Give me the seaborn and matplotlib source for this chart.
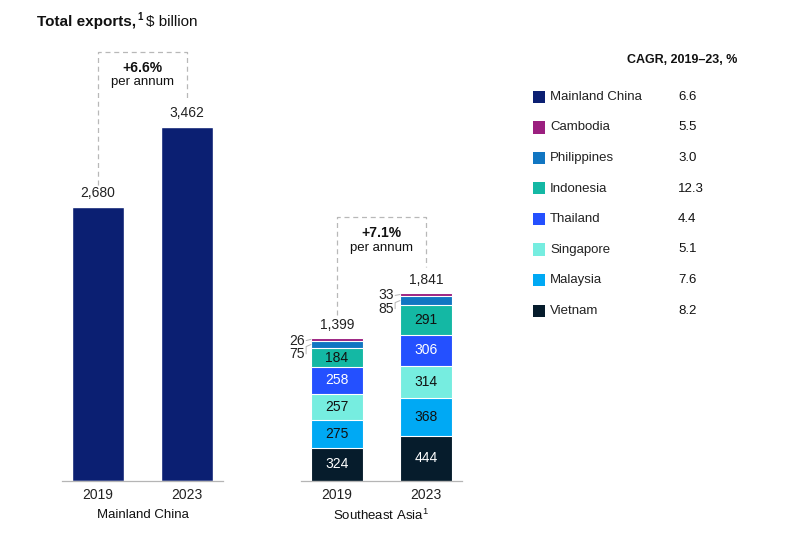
import matplotlib
matplotlib.use("Agg")
import matplotlib.pyplot as plt
import seaborn as sns
import pandas as pd
import numpy as np
from matplotlib.patches import Rectangle

sns.set_theme(style="white")
plt.rcParams['font.family'] = ['Liberation Sans', 'DejaVu Sans']

years = ["2019", "2023"]
china_values = [2680, 3462]
china_labels = ["2,680", "3,462"]

# SEA stack order bottom -> top
sea_countries = ["Vietnam", "Malaysia", "Singapore", "Thailand", "Indonesia", "Philippines", "Cambodia"]
sea_2019 = [324, 275, 257, 258, 184, 75, 26]
sea_2023 = [444, 368, 314, 306, 291, 85, 33]
sea_totals_labels = ["1,399", "1,841"]

legend_names = ["Mainland China", "Cambodia", "Philippines", "Indonesia", "Thailand", "Singapore", "Malaysia", "Vietnam"]
legend_cagr = ["6.6", "5.5", "3.0", "12.3", "4.4", "5.1", "7.6", "8.2"]
cagr_china = "+6.6%"
cagr_sea = "+7.1%"

colors = {
    "Mainland China": "#0b1f72",
    "Cambodia": "#9b1f7f",
    "Philippines": "#1176c2",
    "Indonesia": "#14b8a4",
    "Thailand": "#2450ff",
    "Singapore": "#76ede0",
    "Malaysia": "#00a9f4",
    "Vietnam": "#061c2c",
}
white_text = {"Vietnam", "Thailand"}

W, H = 808, 535
fig = plt.figure(figsize=(W / 100, H / 100), dpi=100)

pxu = 89.0          # px per category unit
pyv = 0.1022        # px per $bn
base_py = 481
ytop = 4300
xl = (-0.41, 1.41)

def add_ax(center0_px):
    left_px = center0_px + xl[0] * pxu
    width_px = (xl[1] - xl[0]) * pxu
    h_px = ytop * pyv
    ax = fig.add_axes([left_px / W, (H - base_py) / H, width_px / W, h_px / H])
    ax.set_xlim(*xl)
    ax.set_ylim(0, ytop)
    ax.patch.set_alpha(0)
    for s in ["top", "right", "left"]:
        ax.spines[s].set_visible(False)
    ax.spines["bottom"].set_color("#b5b5b5")
    ax.spines["bottom"].set_linewidth(0.9)
    ax.set_yticks([])
    ax.tick_params(axis="x", length=0, pad=5, labelsize=10, labelcolor="#222222")
    return ax

# ---- Mainland China ----
axL = add_ax(98)
df_c = pd.DataFrame({"year": years, "value": china_values})
sns.barplot(data=df_c, x="year", y="value", color=colors["Mainland China"],
            width=0.584, errorbar=None, ax=axL, saturation=1)
axL.set_xlim(*xl); axL.set_ylim(0, ytop)
axL.set_xlabel(""); axL.set_ylabel("")
for i, (v, lab) in enumerate(zip(china_values, china_labels)):
    axL.text(i, v + 135, lab, ha="center", va="center", fontsize=10, color="#222222")

# ---- Southeast Asia ----
axR = add_ax(337)
rows = []
for yi, vals in zip(years, [sea_2019, sea_2023]):
    cum = np.cumsum(vals)
    for c, v, cu in zip(sea_countries, vals, cum):
        rows.append({"year": yi, "country": c, "value": v, "cum": cu, "bottom": cu - v})
df_s = pd.DataFrame(rows)
for c in reversed(sea_countries):
    sub = df_s[df_s.country == c]
    sns.barplot(data=sub, x="year", y="cum", order=years, color=colors[c],
                width=0.584, errorbar=None, ax=axR, saturation=1,
                edgecolor="white", linewidth=0.8)
axR.set_xlim(*xl); axR.set_ylim(0, ytop)
axR.set_xlabel(""); axR.set_ylabel("")

small = {"Philippines", "Cambodia"}
for _, r in df_s.iterrows():
    i = years.index(r.year)
    if r.country in small:
        continue
    mid = r.bottom + r.value / 2
    axR.text(i, mid, f"{r.value}", ha="center", va="center", fontsize=10,
             color="white" if r.country in white_text else "#111111")

for i, vals in enumerate([sea_2019, sea_2023]):
    tot = sum(vals)
    axR.text(i, tot + 127, sea_totals_labels[i], ha="center", va="center",
             fontsize=10, color="#222222")
    cum = np.cumsum(vals)
    cam_mid = cum[6] - vals[6] / 2
    phi_mid = cum[5] - vals[5] / 2
    lx = i - 0.292 - 0.07
    axR.text(lx, tot - 25, f"{vals[6]}", ha="right", va="center", fontsize=10, color="#222222")
    axR.text(lx, tot - 155, f"{vals[5]}", ha="right", va="center", fontsize=10, color="#222222")
    axR.plot([lx + 0.015, i - 0.292], [tot - 25, cam_mid], color="#b5b5b5", lw=0.7, clip_on=False)
    axR.plot([lx + 0.015, lx + 0.015, i - 0.292], [tot - 155, phi_mid - 20, phi_mid],
             color="#b5b5b5", lw=0.7, clip_on=False)

# ---- dashed CAGR brackets ----
dash = dict(color="#b8b8b8", lw=0.9, ls=(0, (4, 3)), clip_on=False)
axL.plot([0, 0, 1, 1], [2896, 4198, 4198, 3728], **dash)
axL.text(0.5, 4041, cagr_china, ha="center", va="center", fontsize=10, fontweight="bold", color="#111111")
axL.text(0.5, 3904, "per annum", ha="center", va="center", fontsize=9.5, color="#111111")
axR.plot([0, 0, 1, 1], [1624, 2583, 2583, 2094], **dash)
axR.text(0.5, 2427, cagr_sea, ha="center", va="center", fontsize=10, fontweight="bold", color="#111111")
axR.text(0.5, 2280, "per annum", ha="center", va="center", fontsize=9.5, color="#111111")

# ---- group labels ----
fig.text(143 / W, 1 - 515 / H, "Mainland China", ha="center", va="center", fontsize=9.5, color="#111111")
fig.text(381 / W, 1 - 515 / H, "Southeast Asia$^{\\mathregular{1}}$", ha="center", va="center", fontsize=9.5, color="#111111")

# ---- title ----
renderer = fig.canvas.get_renderer()
t1 = fig.text(37 / W, 1 - 22 / H, "Total exports,", ha="left", va="center",
              fontsize=11, fontweight="bold", color="#111111")
bb = t1.get_window_extent(renderer)
t2 = fig.text((bb.x1 + 1) / W, 1 - 17 / H, "1", ha="left", va="center",
              fontsize=7, fontweight="bold", color="#111111")
bb2 = t2.get_window_extent(renderer)
fig.text((bb2.x1 + 3) / W, 1 - 22 / H, "\\$ billion", ha="left", va="center",
         fontsize=11, color="#111111")

# ---- legend ----
fig.text(627 / W, 1 - 60 / H, "CAGR, 2019\u201323, %", ha="left", va="center",
         fontsize=9, fontweight="bold", color="#111111")
for k, (name, val) in enumerate(zip(legend_names, legend_cagr)):
    yc = 97 + k * 30.5
    fig.patches.append(Rectangle((533 / W, 1 - (yc + 6) / H), 12 / W, 12 / H,
                                 transform=fig.transFigure, facecolor=colors[name],
                                 edgecolor="none"))
    fig.text(550 / W, 1 - yc / H, name, ha="left", va="center", fontsize=9.5, color="#222222")
    fig.text(678 / W, 1 - yc / H, val, ha="left", va="center", fontsize=9.5, color="#111111")

fig.savefig("out.png", dpi=100)
